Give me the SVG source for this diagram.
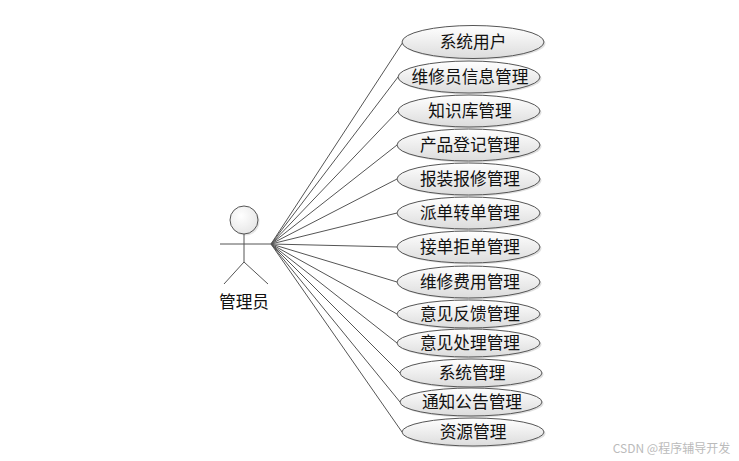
<svg xmlns="http://www.w3.org/2000/svg" width="739" height="461" viewBox="0 0 739 461">
<style>
text{font-family:"Noto Sans CJK SC","Liberation Sans",sans-serif;fill:#111;text-anchor:middle}
.l{font-size:16.700px}
.u ellipse{fill:url(#g);stroke:#555;stroke-width:1}
.u ellipse.s{fill:#000;fill-opacity:.12;stroke:none}
#c line{stroke:#555;stroke-width:1}
#a line{stroke:#555;stroke-width:1}
</style>
<defs><linearGradient id="g" x1="0" y1="0" x2="0" y2="1"><stop offset="0" stop-color="#fff"/><stop offset="1" stop-color="#dcdcdc"/></linearGradient>
<radialGradient id="h" cx=".4" cy=".35" r=".8"><stop offset="0" stop-color="#fff"/><stop offset="1" stop-color="#e2e2e2"/></radialGradient></defs>
<rect width="739" height="461" fill="#fff"/>
<g id="c">
<line x1="271" y1="244" x2="403" y2="42"/>
<line x1="271" y1="244" x2="398" y2="77"/>
<line x1="271" y1="244" x2="398" y2="111"/>
<line x1="271" y1="244" x2="397" y2="145"/>
<line x1="271" y1="244" x2="397" y2="179"/>
<line x1="271" y1="244" x2="397" y2="213"/>
<line x1="271" y1="244" x2="397" y2="247"/>
<line x1="271" y1="244" x2="397" y2="282"/>
<line x1="271" y1="244" x2="397" y2="314"/>
<line x1="271" y1="244" x2="397" y2="343"/>
<line x1="271" y1="244" x2="400" y2="373"/>
<line x1="271" y1="244" x2="400" y2="402"/>
<line x1="271" y1="244" x2="402" y2="432"/>
</g>
<g id="a">
<circle cx="245.500" cy="221.500" r="14" fill="#000" fill-opacity=".1"/>
<circle cx="244" cy="220" r="14" fill="url(#h)" stroke="#555"/>
<line x1="244" y1="234" x2="244" y2="262"/>
<line x1="220" y1="244" x2="271" y2="244"/>
<line x1="244" y1="262" x2="224" y2="284"/>
<line x1="244" y1="262" x2="268" y2="284"/>
<text class="l" x="244" y="308">管理员</text>
</g>
<g id="n1" class="u"><ellipse class="s" cx="474.500" cy="43.500" rx="71" ry="16.500"/><ellipse cx="473" cy="42" rx="71" ry="16.500"/><text class="l" x="473" y="47.500">系统用户</text></g>
<g id="n2" class="u"><ellipse class="s" cx="470.500" cy="78.500" rx="71" ry="16"/><ellipse cx="469" cy="77" rx="71" ry="16"/><text class="l" x="470" y="82.500">维修员信息管理</text></g>
<g id="n3" class="u"><ellipse class="s" cx="470.500" cy="112.500" rx="71" ry="16"/><ellipse cx="469" cy="111" rx="71" ry="16"/><text class="l" x="470" y="116.500">知识库管理</text></g>
<g id="n4" class="u"><ellipse class="s" cx="470" cy="146.500" rx="71.500" ry="16"/><ellipse cx="468.500" cy="145" rx="71.500" ry="16"/><text class="l" x="470" y="150.500">产品登记管理</text></g>
<g id="n5" class="u"><ellipse class="s" cx="470" cy="180.500" rx="71.500" ry="16"/><ellipse cx="468.500" cy="179" rx="71.500" ry="16"/><text class="l" x="470" y="184.500">报装报修管理</text></g>
<g id="n6" class="u"><ellipse class="s" cx="470" cy="214.500" rx="71.500" ry="16"/><ellipse cx="468.500" cy="213" rx="71.500" ry="16"/><text class="l" x="470" y="218.500">派单转单管理</text></g>
<g id="n7" class="u"><ellipse class="s" cx="470" cy="248.500" rx="71.500" ry="16"/><ellipse cx="468.500" cy="247" rx="71.500" ry="16"/><text class="l" x="470" y="252.500">接单拒单管理</text></g>
<g id="n8" class="u"><ellipse class="s" cx="470" cy="283.500" rx="71.500" ry="16"/><ellipse cx="468.500" cy="282" rx="71.500" ry="16"/><text class="l" x="470" y="287.500">维修费用管理</text></g>
<g id="n9" class="u"><ellipse class="s" cx="470" cy="315.500" rx="71.500" ry="14"/><ellipse cx="468.500" cy="314" rx="71.500" ry="14"/><text class="l" x="470" y="319.500">意见反馈管理</text></g>
<g id="n10" class="u"><ellipse class="s" cx="470" cy="344.500" rx="71.500" ry="14"/><ellipse cx="468.500" cy="343" rx="71.500" ry="14"/><text class="l" x="470" y="348.500">意见处理管理</text></g>
<g id="n11" class="u"><ellipse class="s" cx="472.500" cy="374.500" rx="71" ry="14"/><ellipse cx="471" cy="373" rx="71" ry="14"/><text class="l" x="472" y="378.500">系统管理</text></g>
<g id="n12" class="u"><ellipse class="s" cx="472.500" cy="403.500" rx="71" ry="14"/><ellipse cx="471" cy="402" rx="71" ry="14"/><text class="l" x="472" y="407.500">通知公告管理</text></g>
<g id="n13" class="u"><ellipse class="s" cx="474.500" cy="433.500" rx="71" ry="14"/><ellipse cx="473" cy="432" rx="71" ry="14"/><text class="l" x="473" y="437.500">资源管理</text></g>
<text x="671.500" y="453" style="font-size:12px;fill:#bbb">CSDN @程序辅导开发</text>
</svg>
